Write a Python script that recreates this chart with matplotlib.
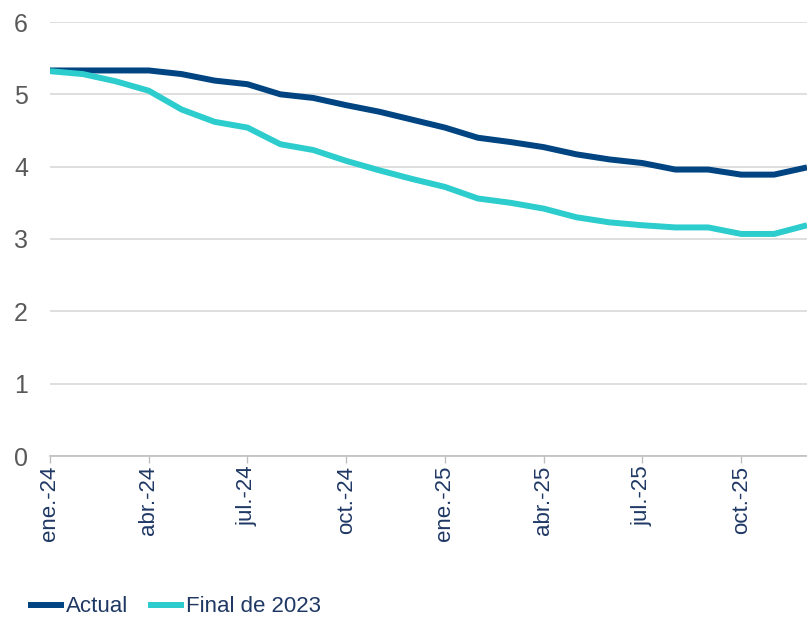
import matplotlib
matplotlib.use("Agg")
import matplotlib.pyplot as plt
import numpy as np

plt.rcParams['font.family'] = ['Liberation Sans', 'DejaVu Sans']

meses = ['ene.-24', 'feb.-24', 'mar.-24', 'abr.-24', 'may.-24', 'jun.-24',
         'jul.-24', 'ago.-24', 'sep.-24', 'oct.-24', 'nov.-24', 'dic.-24',
         'ene.-25', 'feb.-25', 'mar.-25', 'abr.-25', 'may.-25', 'jun.-25',
         'jul.-25', 'ago.-25', 'sep.-25', 'oct.-25', 'nov.-25', 'dic.-25']

actual = [5.33, 5.33, 5.33, 5.33, 5.28, 5.19, 5.14, 5.00, 4.95, 4.85, 4.76, 4.65,
          4.54, 4.40, 4.34, 4.27, 4.17, 4.10, 4.05, 3.96, 3.96, 3.89, 3.89, 3.99]
final_2023 = [5.32, 5.28, 5.18, 5.05, 4.79, 4.62, 4.54, 4.31, 4.23, 4.08, 3.95, 3.83,
              3.72, 3.56, 3.50, 3.42, 3.30, 3.23, 3.19, 3.16, 3.16, 3.07, 3.07, 3.19]

c_actual = '#004481'
c_final = '#2DCCCD'
c_text = '#1F3864'

fig = plt.figure(figsize=(8.07, 6.2), dpi=100)
ax = fig.add_axes([50 / 807, 1 - 456 / 620, 1 - 50 / 807, (456 - 22) / 620])

x = np.arange(len(meses))
ax.plot(x, actual, color=c_actual, lw=4.3, label='Actual', solid_capstyle='butt')
ax.plot(x, final_2023, color=c_final, lw=4.3, label='Final de 2023', solid_capstyle='butt')

ax.set_xlim(0, len(meses) - 1)
ax.set_ylim(0, 6)
ax.set_yticks(range(0, 7))
ax.yaxis.grid(True, color='#D9D9D9', lw=1.2)
ax.set_axisbelow(True)
for s in ['top', 'right', 'left']:
    ax.spines[s].set_visible(False)
ax.spines['bottom'].set_color('#BFBFBF')
ax.spines['bottom'].set_linewidth(1.2)

ax.set_xticks(x[::3])
ax.set_xticklabels(meses[::3], rotation=90, fontsize=16, color=c_text)
ax.tick_params(axis='x', length=5, color='#BFBFBF', width=1, pad=2)
ax.tick_params(axis='y', length=0, labelsize=18, labelcolor='#595959', pad=26)
for lbl in ax.get_yticklabels():
    lbl.set_horizontalalignment('left')

fig.legend(*ax.get_legend_handles_labels(), loc='center left',
           bbox_to_anchor=(28 / 807, 1 - 607 / 620), ncol=2, frameon=False,
           fontsize=16, labelcolor=c_text, handlelength=1.6, handletextpad=0.1,
           columnspacing=0.9, borderaxespad=0, borderpad=0)

fig.savefig('out.png', dpi=100)
